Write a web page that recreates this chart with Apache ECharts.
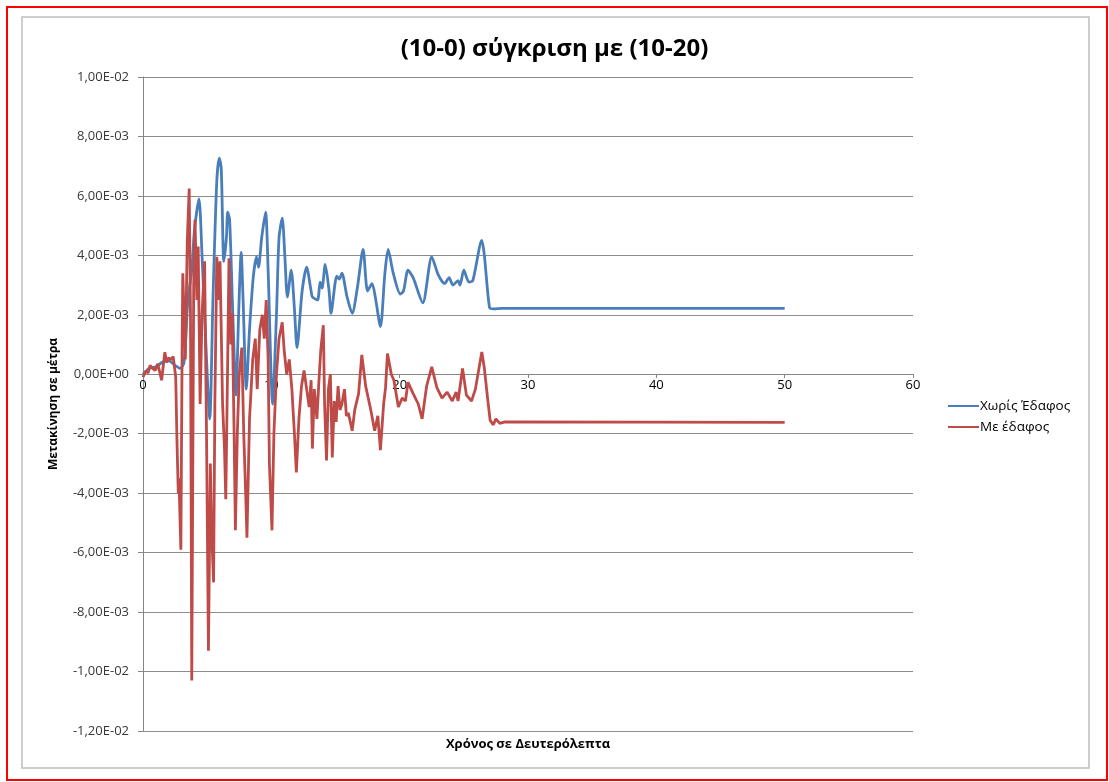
<!DOCTYPE html>
<html>
<head>
<meta charset="utf-8">
<script src="https://cdn.jsdelivr.net/npm/echarts@6/dist/echarts.min.js"></script>
<style>
html,body{margin:0;padding:0;background:#fff;}
#chart{width:1109px;height:782px;}
</style>
</head>
<body>
<div id="chart"></div>
<script>
// Values in units of 1E-03 m (mm); time in seconds
const seriesNames = ['Χωρίς Έδαφος', 'Με έδαφος'];

const blueTime = [0,0.5,1.0,1.5,2.0,2.5,2.9,3.2,3.5,3.8,4.0,4.36,4.6,4.9,5.2,5.45,5.75,5.95,6.1,6.3,6.5,6.6,6.75,7.0,7.25,7.45,7.65,7.8,8.05,8.3,8.6,8.85,9.0,9.25,9.55,9.75,10.1,10.4,10.6,10.85,11.05,11.25,11.55,11.8,12.0,12.4,12.75,13.1,13.2,13.6,13.8,13.95,14.2,14.5,14.65,15.1,15.3,15.5,15.9,16.3,16.7,17.15,17.5,17.85,18.1,18.5,18.85,19.1,19.5,20.05,20.3,20.65,21.05,21.8,22.5,23.0,23.5,23.85,24.15,24.55,24.7,25.0,25.4,25.7,26.4,26.6,27.0,27.3,28.0,50.0];
const blueValues = [0,0.2,0.25,0.4,0.45,0.3,0.2,0.4,2.5,3.5,4.8,5.9,4.0,1.0,-1.5,2.5,6.5,7.27,6.9,3.8,4.6,5.45,5.2,2.0,-0.7,2.0,4.1,2.5,-0.5,1.5,3.3,3.95,3.6,4.6,5.45,3.5,-1.0,2.0,4.6,5.25,4.0,2.6,3.5,2.2,0.9,2.8,3.6,2.8,2.6,2.5,3.1,2.9,3.7,2.8,2.05,3.3,3.2,3.4,2.6,2.05,2.9,4.2,2.8,3.05,2.6,1.6,3.4,4.2,3.4,2.7,2.8,3.5,3.25,2.4,3.95,3.35,3.05,3.25,3.0,3.15,3.0,3.5,3.1,3.15,4.5,4.0,2.25,2.2,2.22,2.22];

const redTime = [0,0.2,0.4,0.55,0.75,0.95,1.15,1.3,1.45,1.7,1.85,2.0,2.2,2.35,2.55,2.65,2.75,2.8,2.95,3.05,3.1,3.2,3.3,3.45,3.6,3.7,3.8,3.95,4.05,4.2,4.3,4.45,4.6,4.8,4.95,5.1,5.25,5.35,5.5,5.6,5.75,5.9,6.0,6.2,6.35,6.45,6.6,6.7,6.85,6.95,7.1,7.2,7.35,7.5,7.7,7.85,8.0,8.1,8.3,8.55,8.75,8.9,9.1,9.3,9.45,9.6,9.75,9.85,10.05,10.2,10.4,10.6,10.85,11.0,11.2,11.4,11.6,11.8,11.95,12.15,12.35,12.55,12.75,12.95,13.1,13.2,13.35,13.55,13.7,13.85,14.05,14.15,14.3,14.45,14.6,14.75,14.9,15.05,15.2,15.35,15.5,15.7,15.85,16.0,16.3,16.5,16.8,17.05,17.35,17.55,17.75,18.05,18.3,18.5,18.75,18.9,19.05,19.35,19.55,19.9,20.2,20.45,20.65,21.05,21.45,21.75,22.1,22.5,22.9,23.3,23.7,24.1,24.4,24.55,24.9,25.2,25.6,25.9,26.4,26.6,26.85,27.05,27.3,27.5,27.8,28.2,50.0];
const redValues = [-0.1,0.1,0.05,0.3,0.2,0.13,0.35,0.37,-0.2,0.74,0.4,0.55,0.5,0.6,-0.1,-2.3,-4.0,-3.5,-5.9,1.0,3.4,2.0,0.5,4.5,6.25,2.0,-10.3,3.0,5.2,2.5,4.3,-1.0,2.0,3.8,-2.0,-9.3,-3.0,-5.35,-7.0,-1.0,3.95,2.5,3.8,-1.0,-2.5,-4.2,0.5,3.9,1.0,2.05,-2.0,-5.25,-2.0,0.0,0.9,-2.0,-4.0,-5.5,-1.5,0.5,1.2,-0.5,1.5,2.0,1.2,2.5,0.5,-3.0,-5.25,-2.0,0.0,1.2,1.75,0.8,0.0,0.5,-0.5,-2.0,-3.3,-1.5,-0.4,0.13,-0.5,-1.1,-0.2,-2.5,-0.5,-1.5,-0.3,0.8,1.65,-1.0,-2.9,-0.5,0.0,-2.8,-0.9,-1.6,-0.4,-1.2,-1.0,-0.5,-1.4,-1.3,-1.9,-1.2,-0.65,0.65,-0.4,-0.8,-1.2,-1.9,-1.4,-2.55,-1.0,-0.45,0.7,0.0,-0.2,-1.1,-0.8,-0.9,-0.27,-0.65,-1.0,-1.5,-0.4,0.25,-0.45,-0.8,-0.6,-0.9,-0.6,-0.9,0.2,-0.7,-0.9,-0.5,0.75,0.2,-0.8,-1.55,-1.7,-1.5,-1.65,-1.6,-1.62];

const yTickValues = [-12,-10,-8,-6,-4,-2,0,2,4,6,8,10];
const yTickLabels = ['-1,20E-02','-1,00E-02','-8,00E-03','-6,00E-03','-4,00E-03','-2,00E-03','0,00E+00','2,00E-03','4,00E-03','6,00E-03','8,00E-03','1,00E-02'];
const xTickLabels = ['0','10','20','30','40','50','60'];

const titleText = '(10-0) σύγκριση με (10-20)';
const yAxisName = 'Μετακίνηση σε μέτρα';
const xAxisName = 'Χρόνος σε Δευτερόλεπτα';

const pair = (ts, vs) => ts.map((t, i) => [t, vs[i]]);

const chart = echarts.init(document.getElementById('chart'), null, {renderer: 'canvas'});
chart.setOption({
  animation: false,
  backgroundColor: '#ffffff',
  title: {
    text: titleText,
    left: 'center',
    top: 32,
    textStyle: {fontFamily: 'Open Sans', fontWeight: 'bold', fontSize: 24, color: '#000'}
  },
  legend: {
    orient: 'vertical',
    left: 943,
    top: 394,
    itemWidth: 31,
    itemHeight: 2,
    itemGap: 7,
    icon: 'rect',
    textStyle: {fontFamily: 'Open Sans', fontSize: 13.5, color: '#000', padding: [0,0,0,-4]},
    data: seriesNames
  },
  grid: {left: 143, right: 196, top: 77, bottom: 51, containLabel: false},
  xAxis: {
    type: 'value',
    min: 0, max: 60, interval: 10,
    offset: -357,
    axisLine: {onZero: false, lineStyle: {color: '#868686', width: 1}},
    axisTick: {show: true, length: 4, lineStyle: {color: '#868686'}},
    axisLabel: {
      color: '#000', fontFamily: 'Open Sans', fontSize: 13, margin: 5,
      formatter: v => xTickLabels[Math.round(v / 10)]
    },
    splitLine: {show: false}
  },
  yAxis: {
    type: 'value',
    min: -12, max: 10, interval: 2,
    name: yAxisName,
    nameLocation: 'middle',
    nameRotate: 90,
    nameGap: 83,
    nameTextStyle: {fontFamily: 'Open Sans', fontWeight: 'bold', fontSize: 12, color: '#000'},
    axisLine: {show: true, onZero: false, lineStyle: {color: '#868686', width: 1}},
    axisTick: {show: true, inside: false, length: 5, lineStyle: {color: '#868686'}},
    axisLabel: {
      color: '#383838', fontFamily: 'Open Sans', fontSize: 13, margin: 14,
      formatter: v => yTickLabels[yTickValues.indexOf(Math.round(v))]
    },
    splitLine: {show: true, lineStyle: {color: '#8c8c8c', width: 1}}
  },
  graphic: [
    {type: 'rect', shape: {x: 7, y: 7, width: 1100, height: 773}, style: {fill: 'none', stroke: '#ff0000', lineWidth: 2}, z: 100},
    {type: 'rect', shape: {x: 22, y: 17, width: 1067, height: 751}, style: {fill: 'none', stroke: '#bdbdbd', lineWidth: 1.5}, z: 100},
    {type: 'text', x: 528, y: 744, style: {text: xAxisName, font: 'bold 13px "Open Sans"', fill: '#000', textAlign: 'center', textVerticalAlign: 'middle'}}
  ],
  series: [
    {
      name: seriesNames[0], type: 'line', data: pair(blueTime, blueValues),
      showSymbol: false, smooth: 0.25,
      lineStyle: {color: '#4a7ebb', width: 2.8}, itemStyle: {color: '#4a7ebb'}, z: 2
    },
    {
      name: seriesNames[1], type: 'line', data: pair(redTime, redValues),
      showSymbol: false, smooth: false,
      lineStyle: {color: '#be4b48', width: 2.8}, itemStyle: {color: '#be4b48'}, z: 3
    }
  ]
});
</script>
</body>
</html>
